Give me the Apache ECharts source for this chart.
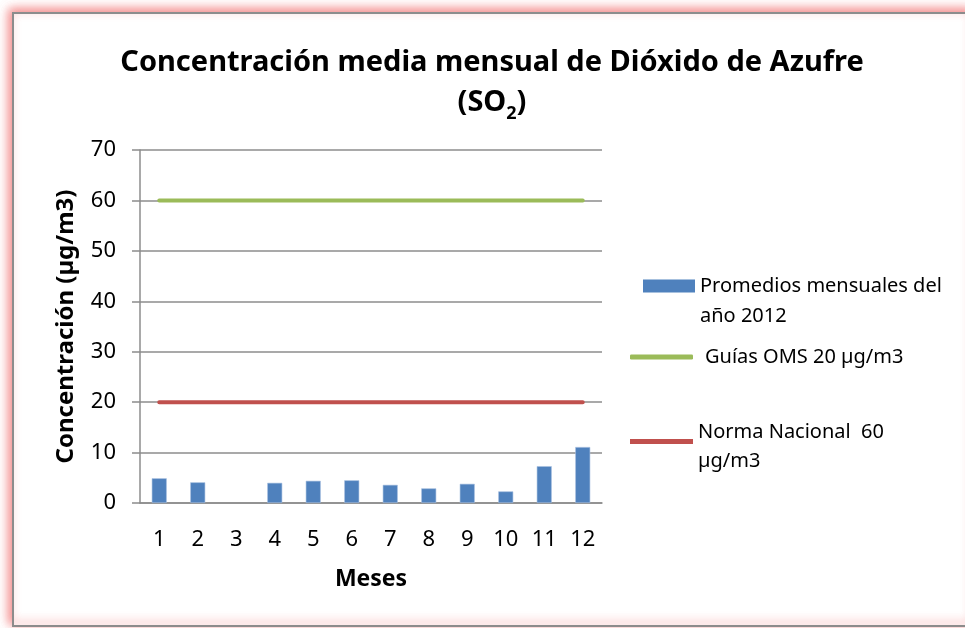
<!DOCTYPE html>
<html>
<head>
<meta charset="utf-8">
<script src="https://cdn.jsdelivr.net/npm/echarts@6/dist/echarts.min.js"></script>
<style>
  html, body { margin: 0; padding: 0; background: #fff; }
  #chart { width: 965px; height: 628px; }
</style>
</head>
<body>
<div id="chart"></div>
<script>
// datos
var meses = ['1', '2', '3', '4', '5', '6', '7', '8', '9', '10', '11', '12'];
var promedios2012 = [4.9, 4.1, null, 4.0, 4.4, 4.5, 3.6, 2.9, 3.8, 2.3, 7.3, 11.1];
var guiasOMS = [60, 60, 60, 60, 60, 60, 60, 60, 60, 60, 60, 60];
var normaNacional = [20, 20, 20, 20, 20, 20, 20, 20, 20, 20, 20, 20];
var yTicks = [0, 10, 20, 30, 40, 50, 60, 70];

var nombres = ['Promedios mensuales del año 2012', 'Guías OMS 20 µg/m3', 'Norma Nacional  60 µg/m3'];

var font = 'Noto Sans';
var myChart = echarts.init(document.getElementById('chart'));

var option = {
  backgroundColor: '#fff',
  animation: false,
  graphic: [
    {
      type: 'rect',
      z: -100,
      silent: true,
      shape: { x: 13, y: 13, width: 962, height: 613 },
      style: {
        fill: '#fff',
        stroke: '#8c8c8c',
        lineWidth: 2,
        shadowBlur: 10,
        shadowColor: 'rgba(240,90,90,0.75)',
        shadowOffsetX: -3,
        shadowOffsetY: -3
      }
    }
  ],
  title: {
    text: 'Concentración media mensual de Dióxido de Azufre\n(SO{sub|2})',
    left: 492,
    top: 43,
    padding: 0,
    textAlign: 'center',
    textStyle: {
      fontFamily: font,
      fontSize: 29,
      fontWeight: 'bold',
      color: '#000',
      lineHeight: 40,
      rich: {
        sub: {
          fontFamily: font,
          fontSize: 18,
          fontWeight: 'bold',
          color: '#000',
          lineHeight: 27,
          verticalAlign: 'bottom'
        }
      }
    }
  },
  legend: [
    {
      // primera línea vacía: así "Promedios..." queda a la altura del icono
      data: [nombres[0]],
      left: 643,
      top: 241,
      padding: 0,
      icon: 'rect',
      itemWidth: 52,
      itemHeight: 13,
      itemStyle: { borderWidth: 0 },
      formatter: function () { return '\nPromedios mensuales del\naño 2012'; },
      textStyle: { fontFamily: font, fontSize: 20, color: '#000', lineHeight: 30 }
    },
    {
      data: [nombres[1]],
      left: 630,
      top: 343,
      padding: 0,
      icon: 'roundRect',
      itemWidth: 63,
      itemHeight: 5,
      textStyle: { fontFamily: font, fontSize: 20, color: '#000', lineHeight: 28, padding: [0, 0, 0, 7] }
    },
    {
      data: [nombres[2]],
      left: 630,
      top: 418,
      padding: 0,
      // barra arriba de una caja de 16px, para que quede un poco sobre el centro del texto
      icon: 'path://M0,0L63,0L63,5L0,5Z M0,16L0.01,16',
      itemWidth: 63,
      itemHeight: 16,
      formatter: function () { return 'Norma Nacional  60\nµg/m3'; },
      textStyle: { fontFamily: font, fontSize: 20, color: '#000', lineHeight: 29 }
    }
  ],
  grid: {
    left: 140,
    right: 363,
    top: 150,
    bottom: 125
  },
  xAxis: {
    type: 'category',
    data: meses,
    name: 'Meses',
    nameLocation: 'middle',
    nameGap: 65,
    nameTextStyle: { fontFamily: font, fontSize: 23, fontWeight: 'bold', color: '#000' },
    axisLine: { lineStyle: { color: '#8c8c8c', width: 1.5 } },
    axisTick: { show: false },
    axisLabel: { fontFamily: font, fontSize: 22, color: '#000', margin: 26 }
  },
  yAxis: {
    type: 'value',
    min: 0,
    max: yTicks[yTicks.length - 1],
    interval: 10,
    name: 'Concentración (µg/m3)',
    nameLocation: 'middle',
    nameGap: 62,
    nameRotate: 90,
    nameTextStyle: { fontFamily: font, fontSize: 24, fontWeight: 'bold', color: '#000' },
    axisLine: { show: true, lineStyle: { color: '#8c8c8c', width: 1.5 } },
    axisTick: { show: true, length: 8, lineStyle: { color: '#8c8c8c', width: 1.5 } },
    axisLabel: { fontFamily: font, fontSize: 22, color: '#000', margin: 24 },
    splitLine: { show: true, lineStyle: { color: '#8c8c8c', width: 1.5 } }
  },
  series: [
    {
      name: nombres[0],
      type: 'bar',
      data: promedios2012,
      barWidth: 15,
      color: '#4f81bd',
      itemStyle: { color: '#4f81bd', borderColor: '#a9c1e0', borderWidth: 0.6 },
      z: 3
    },
    {
      name: nombres[1],
      type: 'line',
      data: guiasOMS,
      color: '#9bbb59',
      symbol: 'none',
      lineStyle: { color: '#9bbb59', width: 4, cap: 'round' },
      z: 4
    },
    {
      name: nombres[2],
      type: 'line',
      data: normaNacional,
      color: '#c0504d',
      symbol: 'none',
      lineStyle: { color: '#c0504d', width: 4, cap: 'round' },
      z: 4
    }
  ]
};

myChart.setOption(option);
window.addEventListener('resize', function () {
  myChart.resize();
});
</script>
</body>
</html>
